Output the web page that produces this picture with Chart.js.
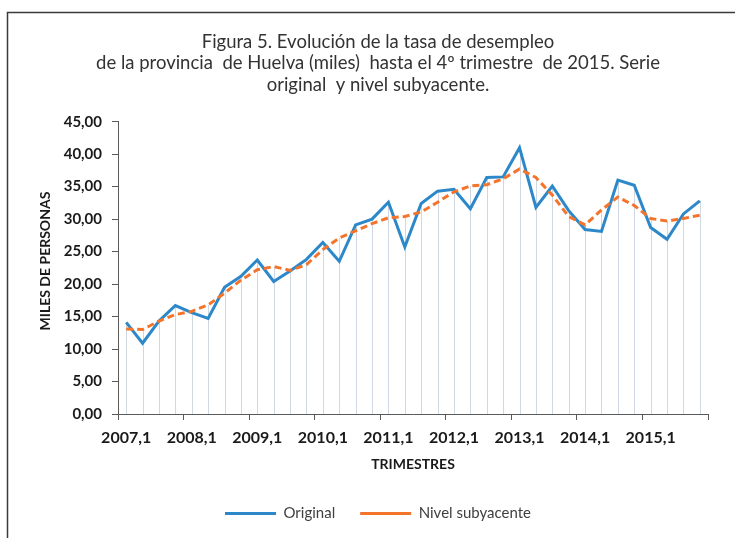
<!DOCTYPE html>
<html>
<head>
<meta charset="utf-8">
<script src="https://cdn.jsdelivr.net/npm/chart.js@4.4.1/dist/chart.umd.min.js"></script>
<style>
  html, body { margin: 0; padding: 0; background: #ffffff; }
  #wrap { width: 735px; height: 538px; position: relative; }
</style>
</head>
<body>
<div id="wrap"><canvas id="c" width="735" height="538"></canvas></div>
<script>
const categories = [
  "2007,1","2007,2","2007,3","2007,4",
  "2008,1","2008,2","2008,3","2008,4",
  "2009,1","2009,2","2009,3","2009,4",
  "2010,1","2010,2","2010,3","2010,4",
  "2011,1","2011,2","2011,3","2011,4",
  "2012,1","2012,2","2012,3","2012,4",
  "2013,1","2013,2","2013,3","2013,4",
  "2014,1","2014,2","2014,3","2014,4",
  "2015,1","2015,2","2015,3","2015,4"
];
const original = [
  14.1, 10.9, 14.3, 16.7,
  15.6, 14.7, 19.5, 21.2,
  23.7, 20.4, 22.0, 23.8,
  26.4, 23.5, 29.1, 30.0,
  32.6, 25.7, 32.4, 34.3,
  34.6, 31.6, 36.4, 36.5,
  41.0, 31.8, 35.1, 31.3,
  28.4, 28.1, 36.0, 35.2,
  28.7, 26.9, 30.8, 32.8
];
const subyacente = [
  13.1, 13.0, 14.3, 15.3,
  15.8, 16.8, 18.6, 20.6,
  22.2, 22.7, 22.1, 23.0,
  25.3, 27.1, 28.2, 29.3,
  30.2, 30.4, 31.1, 32.6,
  34.2, 35.1, 35.3, 36.2,
  37.7, 36.4, 33.7, 30.4,
  29.1, 31.4, 33.4, 32.1,
  30.1, 29.7, 30.1, 30.6
];
const titleLines = [
  "Figura 5. Evolución de la tasa de desempleo",
  "de la provincia  de Huelva (miles)  hasta el 4º trimestre  de 2015. Serie",
  "original  y nivel subyacente."
];
const yTitle = "    MILES DE PERSONAS";
const xTitle = "TRIMESTRES";
const seriesNames = ["Original", "Nivel subyacente"];

const frame = {
  id: 'frame',
  beforeDraw(chart) {
    const ctx = chart.ctx;
    ctx.save();
    ctx.fillStyle = '#ffffff';
    ctx.fillRect(0, 0, chart.width, chart.height);
    ctx.strokeStyle = '#3a3a3a';
    ctx.lineWidth = 1.5;
    ctx.beginPath();
    ctx.moveTo(7.5, chart.height);
    ctx.lineTo(7.5, 12.5);
    ctx.lineTo(chart.width, 12.5);
    ctx.stroke();
    ctx.restore();
  }
};

const dropLines = {
  id: 'dropLines',
  beforeDatasetsDraw(chart) {
    const ctx = chart.ctx;
    const m0 = chart.getDatasetMeta(0).data;
    const m1 = chart.getDatasetMeta(1).data;
    const bottom = chart.chartArea.bottom;
    ctx.save();
    ctx.strokeStyle = '#cfd8e2';
    ctx.lineWidth = 1;
    for (let i = 0; i < m0.length; i++) {
      const x = Math.round(m0[i].x) + 0.5;
      const top = Math.min(m0[i].y, m1[i] ? m1[i].y : m0[i].y);
      ctx.beginPath();
      ctx.moveTo(x, top);
      ctx.lineTo(x, bottom);
      ctx.stroke();
    }
    ctx.restore();
  }
};

const axisColor = '#5a5a5a';
const fmt = v => Number(v).toFixed(2).replace('.', ',');

new Chart(document.getElementById('c'), {
  type: 'line',
  data: {
    labels: categories,
    datasets: [
      {
        label: seriesNames[0],
        data: original,
        borderColor: '#2c88c9',
        backgroundColor: '#2c88c9',
        borderWidth: 3,
        pointRadius: 0,
        tension: 0,
        order: 2
      },
      {
        label: seriesNames[1],
        data: subyacente,
        borderColor: '#f4742c',
        backgroundColor: '#f4742c',
        borderWidth: 3,
        borderDash: [7, 4],
        pointRadius: 0,
        tension: 0,
        order: 1
      }
    ]
  },
  options: {
    responsive: false,
    animation: false,
    devicePixelRatio: 1,
    layout: { padding: { left: 21, right: 0, top: 0, bottom: 7 } },
    plugins: {
      title: {
        display: true,
        text: titleLines,
        color: '#333333',
        font: { family: 'Lato', size: 18.5, weight: 'normal', lineHeight: 1.165 },
        padding: { top: 31, bottom: 26 }
      },
      legend: {
        position: 'bottom',
        labels: {
          usePointStyle: true,
          pointStyle: 'line',
          pointStyleWidth: 51,
          color: '#404040',
          font: { family: 'Lato', size: 15 },
          padding: 25,
          sort: (a, b) => a.datasetIndex - b.datasetIndex
        }
      },
      tooltip: { enabled: false }
    },
    scales: {
      x: {
        type: 'category',
        offset: true,
        afterFit(s) { s.height = 67; },
        grid: {
          offset: true,
          drawOnChartArea: false,
          drawTicks: true,
          tickLength: 6,
          color: ctx => (ctx.type !== 'tick' || ctx.index % 4 === 0) ? axisColor : 'rgba(0,0,0,0)'
        },
        border: { display: true, color: axisColor, width: 1 },
        ticks: {
          autoSkip: false,
          maxRotation: 0,
          padding: 8,
          color: '#1a1a1a',
          font: { family: 'Lato', size: 16, weight: 'bold' },
          callback(v, i) { const l = categories[i]; return l.endsWith(',1') ? l : ''; }
        },
        title: {
          display: true,
          text: xTitle,
          color: '#1a1a1a',
          font: { family: 'Lato', size: 14, weight: 'bold' },
          padding: { top: 0, bottom: 8 }
        }
      },
      y: {
        position: 'left',
        min: 0,
        max: 45,
        afterFit(s) { s.width = 97; },
        grid: {
          drawOnChartArea: false,
          drawTicks: true,
          tickLength: 6,
          color: axisColor
        },
        border: { display: true, color: axisColor, width: 1 },
        ticks: {
          stepSize: 5,
          padding: 10,
          color: '#1a1a1a',
          font: { family: 'Lato', size: 15, weight: 'bold' },
          callback: v => fmt(v)
        },
        title: {
          display: true,
          text: yTitle,
          color: '#1a1a1a',
          font: { family: 'Lato', size: 14, weight: 'bold' },
          padding: { top: 16, bottom: 0 }
        }
      },
      yr: {
        position: 'right',
        display: true,
        afterFit(s) { s.width = 27; },
        grid: { display: false, drawTicks: false },
        border: { display: false },
        ticks: { display: false }
      }
    }
  },
  plugins: [frame, dropLines]
});
</script>
</body>
</html>
